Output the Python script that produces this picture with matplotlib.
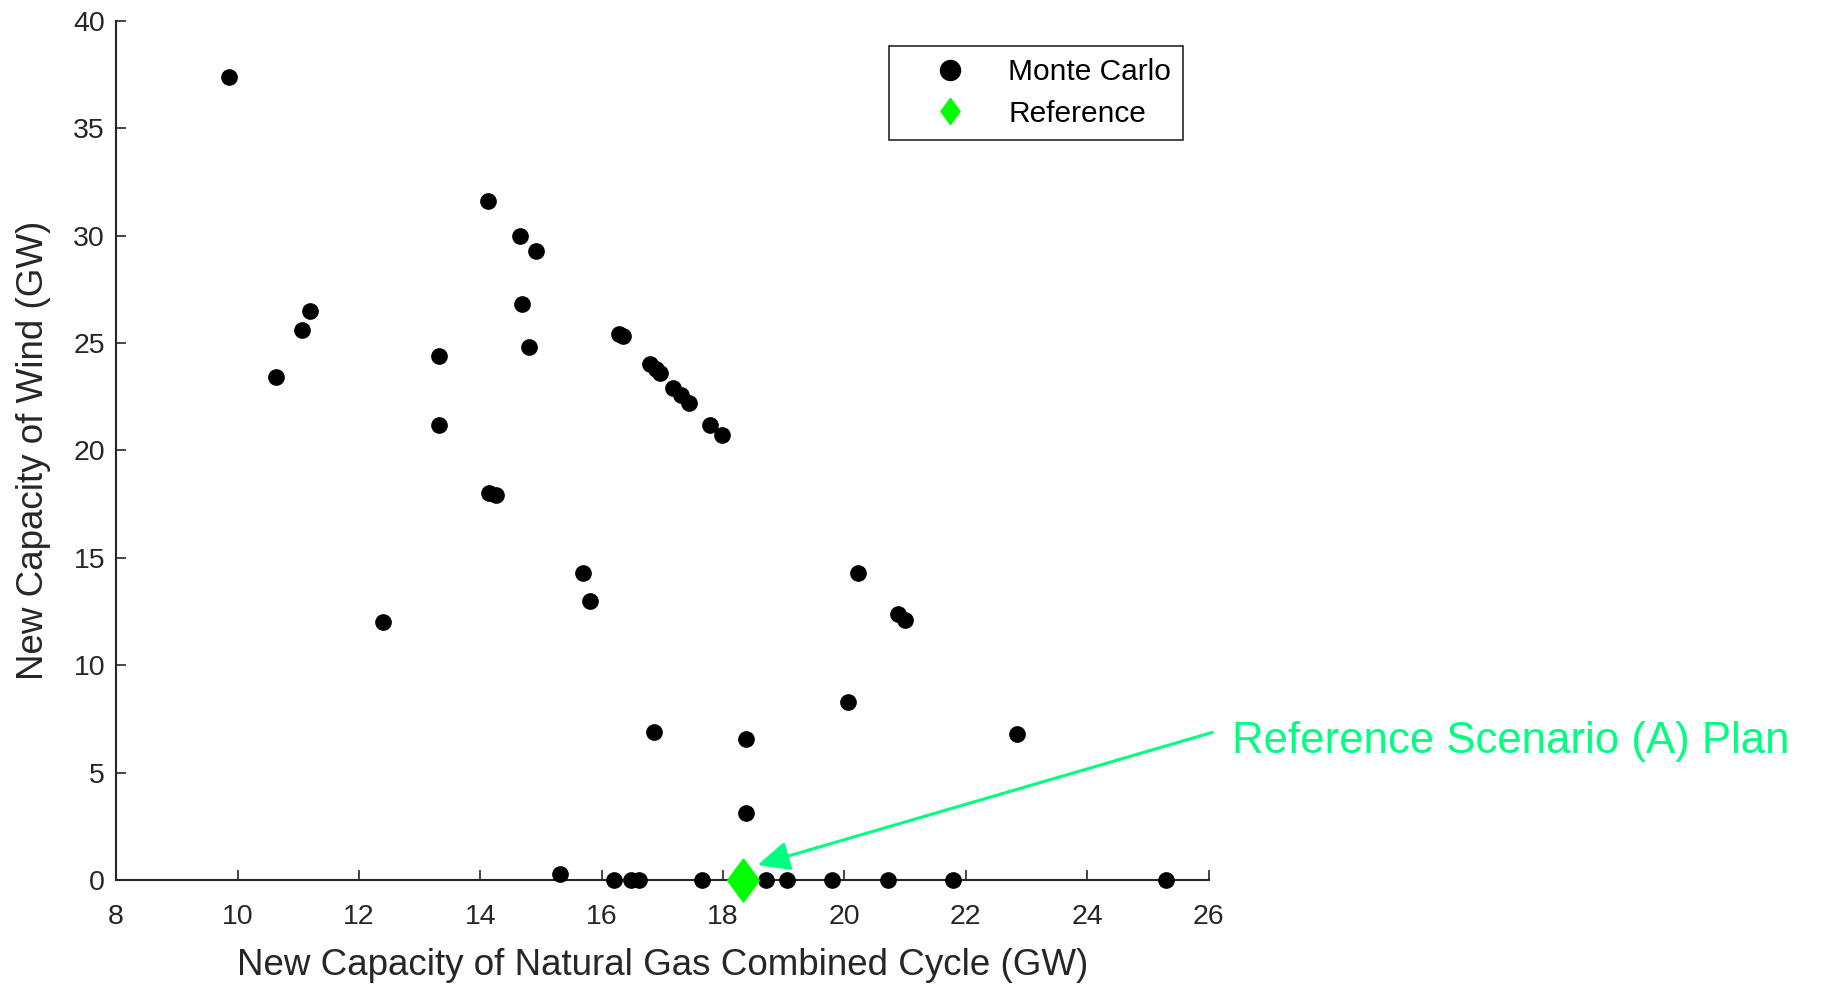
import numpy as np
import matplotlib.pyplot as plt

plt.rcParams['font.family'] = ['Liberation Sans', 'DejaVu Sans']

# Monte Carlo runs: new NGCC capacity (GW) vs new wind capacity (GW)
ngcc = [9.86, 10.64, 11.06, 11.20, 12.39, 13.32, 13.32, 14.13, 14.15, 14.26,
        14.66, 14.68, 14.80, 14.91, 15.31, 15.70, 15.81, 16.21, 16.29, 16.35,
        16.48, 16.62, 16.79, 16.89, 16.96, 16.87, 17.17, 17.31, 17.44, 17.66,
        17.79, 17.98, 18.38, 18.38, 18.70, 19.06, 19.80, 20.06, 20.22, 20.71,
        20.89, 21.00, 21.78, 22.84, 25.30]
wind = [37.4, 23.4, 25.6, 26.5, 12.0, 24.4, 21.2, 31.6, 18.0, 17.9,
        30.0, 26.8, 24.8, 29.3, 0.3, 14.3, 13.0, 0.0, 25.4, 25.3,
        0.0, 0.0, 24.0, 23.8, 23.6, 6.9, 22.9, 22.6, 22.2, 0.0,
        21.2, 20.7, 6.55, 3.1, 0.0, 0.0, 0.0, 8.3, 14.3, 0.0,
        12.4, 12.1, 0.0, 6.8, 0.0]

ref_ngcc = [18.33]
ref_wind = [0.0]

# diamond a bit wider than matplotlib's thin 'd'
diamond = [(0, 0.5), (0.37, 0), (0, -0.5), (-0.37, 0), (0, 0.5)]

fig = plt.figure(figsize=(18.23, 9.86), dpi=100)
ax = fig.add_axes([0.0637, 0.1075, 0.5993, 0.8715])

ax.plot(ngcc, wind, 'o', color='black', markersize=11, label='Monte Carlo',
        clip_on=False, zorder=3)
ax.plot(ref_ngcc, ref_wind, marker=diamond, ls='none', color='#00ff00',
        markersize=31, label='Reference', clip_on=False, zorder=4)

ax.set_xlim(8, 26)
ax.set_ylim(0, 40)
ax.set_xticks(np.arange(8, 27, 2))
ax.set_yticks(np.arange(0, 41, 5))

for s in ['top', 'right']:
    ax.spines[s].set_visible(False)
for s in ['left', 'bottom']:
    ax.spines[s].set_color('#262626')
    ax.spines[s].set_linewidth(1.5)
ax.tick_params(direction='in', length=7.5, width=1.2, colors='#262626',
               labelsize=20.5)
ax.tick_params(axis='y', pad=8)
ax.tick_params(axis='x', pad=17)

ax.set_xlabel('New Capacity of Natural Gas Combined Cycle (GW)', fontsize=26.5,
              color='#262626', labelpad=13)
ax.set_ylabel('New Capacity of Wind (GW)', fontsize=26.5, color='#262626',
              labelpad=16)

leg = ax.legend(loc='upper left', bbox_to_anchor=(0.7074, 0.970),
                fontsize=21.5, frameon=True, fancybox=False, edgecolor='#262626',
                framealpha=1, handlelength=3.3, handletextpad=0.3,
                borderpad=0.4, labelspacing=0.45, borderaxespad=0)
leg.get_frame().set_linewidth(1.2)
leg.legend_handles[0].set_markersize(14.4)
leg.legend_handles[1].set_markersize(18.7)

# arrow and label
ax.annotate('', xy=(18.57, 0.7), xytext=(26.06, 6.87), annotation_clip=False,
            arrowprops=dict(arrowstyle='-|>,head_length=1.3,head_width=0.6',
                            mutation_scale=15, color='#00ff80', lw=2.2,
                            shrinkA=0, shrinkB=0))
ax.text(26.38, 6.45, 'Reference Scenario (A) Plan', fontsize=31.5,
        color='#00ff80', va='center', ha='left', clip_on=False)

fig.savefig('out.png', dpi=100)
